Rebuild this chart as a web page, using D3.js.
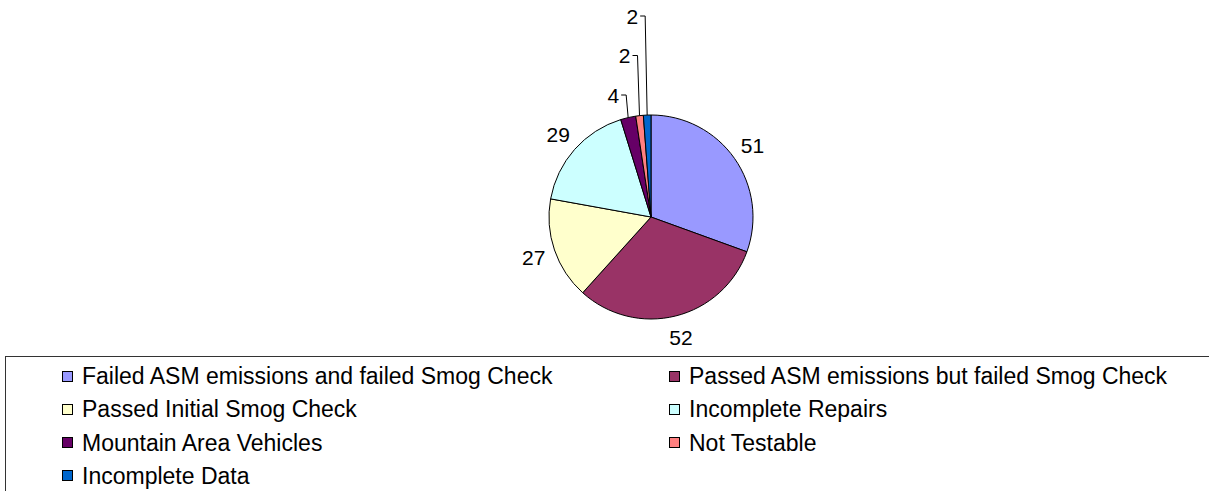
<!DOCTYPE html>
<html>
<head>
<meta charset="utf-8">
<script src="https://cdn.jsdelivr.net/npm/d3@7"></script>
<style>
  html, body { margin: 0; padding: 0; background: #fff; }
  svg { display: block; }
  text { font-family: "Liberation Sans", Arial, sans-serif; fill: #000; }
</style>
</head>
<body>
<svg id="chart" width="1209" height="491"></svg>
<script>
const categories = [
  "Failed ASM emissions and failed Smog Check",
  "Passed ASM emissions but failed Smog Check",
  "Passed Initial Smog Check",
  "Incomplete Repairs",
  "Mountain Area Vehicles",
  "Not Testable",
  "Incomplete Data"
];
const values = [51, 52, 27, 29, 4, 2, 2];
const colors = ["#9999FF", "#993366", "#FFFFCC", "#CCFFFF", "#660066", "#FF8080", "#0066CC"];

const W = 1209, H = 491;
const svg = d3.select("#chart");
const cx = 651, cy = 217, R = 102;
const labelFont = 21;
const legendFont = 23;

const data = categories.map((c, i) => ({ name: c, value: values[i], color: colors[i] }));

const pie = d3.pie().value(d => d.value).sort(null).startAngle(0).endAngle(2 * Math.PI);
const arcs = pie(data);
const arc = d3.arc().innerRadius(0).outerRadius(R);
const labelArc = d3.arc().innerRadius(124).outerRadius(124);
const edgeArc = d3.arc().innerRadius(R).outerRadius(R);

const g = svg.append("g").attr("transform", `translate(${cx},${cy})`);
g.selectAll("path.slice").data(arcs).enter().append("path")
  .attr("class", "slice")
  .attr("d", arc)
  .attr("fill", d => d.data.color)
  .attr("stroke", "#000")
  .attr("stroke-width", 1)
  .attr("stroke-linejoin", "round");

// labels
const total = d3.sum(values);
const small = arcs.filter(a => a.data.value / total < 0.05);
arcs.forEach(a => {
  if (a.data.value / total >= 0.05) {
    const [x, y] = labelArc.centroid(a);
    g.append("text")
      .attr("x", x).attr("y", y)
      .attr("text-anchor", "middle")
      .attr("dominant-baseline", "central")
      .style("font-size", labelFont + "px")
      .text(a.data.value);
  }
});
small.forEach((a, k) => {
  const [ex, ey] = edgeArc.centroid(a);
  const ly = -R - 20 - 39.5 * k;
  const bx = ex - 2;
  const pts = [[ex, ey], [bx, ly], [bx - 5, ly]];
  g.append("path")
    .attr("d", d3.line()(pts))
    .attr("fill", "none")
    .attr("stroke", "#000")
    .attr("stroke-width", 1);
  g.append("text")
    .attr("x", bx - 7).attr("y", ly)
    .attr("text-anchor", "end")
    .attr("dominant-baseline", "central")
    .style("font-size", labelFont + "px")
    .text(a.data.value);
});

// legend
const legendTop = 356.5;
svg.append("rect")
  .attr("x", 5.5).attr("y", legendTop)
  .attr("width", 1210).attr("height", 200)
  .attr("fill", "none")
  .attr("stroke", "#333")
  .attr("stroke-width", 1);

const colX = d3.scalePoint().domain([0, 1]).range([62, 669]);
const rowY = d3.scaleLinear().domain([0, 1]).range([376, 409.3]);
const mk = 11;
const lg = svg.append("g");
data.forEach((d, i) => {
  const col = i % 2, row = Math.floor(i / 2);
  const x = colX(col), y = rowY(row);
  lg.append("rect")
    .attr("x", x + 0.5).attr("y", Math.round(y - mk / 2) + 0.5)
    .attr("width", mk - 1).attr("height", mk - 1)
    .attr("fill", d.color)
    .attr("stroke", "#000").attr("stroke-width", 1);
  lg.append("text")
    .attr("x", x + 20).attr("y", y)
    .attr("dominant-baseline", "central")
    .style("font-size", legendFont + "px")
    .text(d.name);
});
</script>
</body>
</html>
